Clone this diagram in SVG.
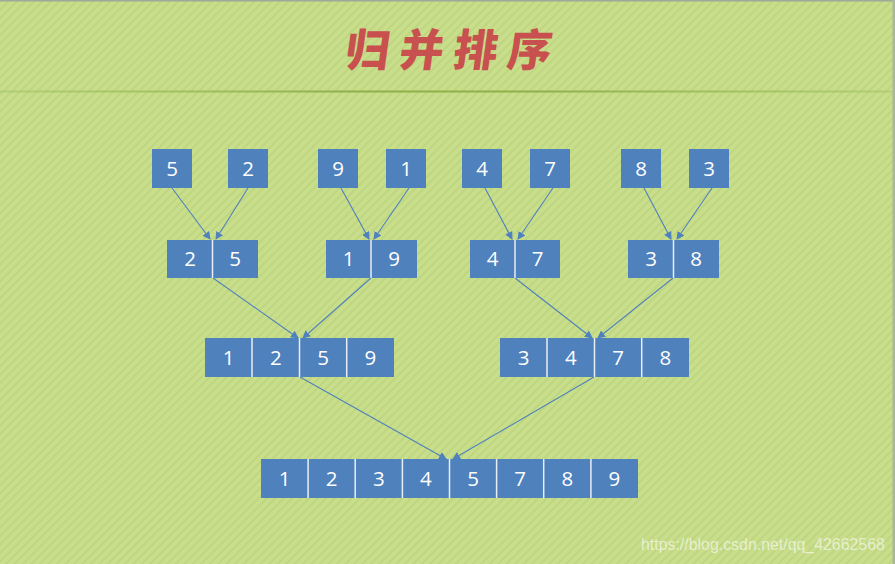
<svg xmlns="http://www.w3.org/2000/svg" width="895" height="564" viewBox="0 0 895 564">
  <defs>
    <pattern id="stripes" width="6" height="6" patternUnits="userSpaceOnUse" patternTransform="rotate(45)">
      <rect width="6" height="6" fill="#C8DE8B"/>
      <rect width="2" height="6" fill="#BED581"/>
    </pattern>
    <linearGradient id="rule" x1="0" y1="0" x2="1" y2="0">
      <stop offset="0" stop-color="#A9C76A" stop-opacity="0.7"/>
      <stop offset="0.4" stop-color="#8DB04A"/>
      <stop offset="0.6" stop-color="#8DB04A"/>
      <stop offset="1" stop-color="#A9C76A" stop-opacity="0.7"/>
    </linearGradient>
    <marker id="ah" markerUnits="userSpaceOnUse" markerWidth="8" markerHeight="8" viewBox="0 0 8 8" refX="7" refY="4" orient="auto">
      <path d="M0,0 L8,4 L0,8 Z" fill="#4F81BD"/>
    </marker>
  </defs>
  <style>
    .box { fill: #4F81BD; }
    .div { stroke: #E8EEF7; stroke-width: 1.5; }
    .num { font-family: "Open Sans", "Noto Sans", "Liberation Sans", sans-serif; font-size: 20.5px; fill: #FFFFFF; text-anchor: middle; }
    .arrow { stroke: #4F81BD; stroke-width: 1.1; fill: none; marker-end: url(#ah); }
  </style>

  <rect width="895" height="564" fill="url(#stripes)"/>
  <rect x="0" y="0" width="895" height="1.5" fill="#A0A89A"/>
  <rect x="892.5" y="0" width="2.5" height="564" fill="#A9B89A"/>
  <rect x="0" y="90.5" width="892" height="2" fill="url(#rule)"/>

  <g id="title">
    <text x="446" y="66" transform="skewX(-8) translate(15,0)" font-family="Noto Sans CJK SC, Noto Sans CJK JP, sans-serif" font-weight="900" font-size="44" fill="#C8504E" text-anchor="middle" letter-spacing="10">归并排序</text>
  </g>

  <g id="connectors">
    <line class="arrow" x1="172" y1="188" x2="210" y2="239"/>
    <line class="arrow" x1="248" y1="188" x2="216" y2="239"/>
    <line class="arrow" x1="341" y1="188" x2="369" y2="239"/>
    <line class="arrow" x1="409" y1="188" x2="374" y2="239"/>
    <line class="arrow" x1="485" y1="188" x2="512" y2="239"/>
    <line class="arrow" x1="553" y1="188" x2="518" y2="239"/>
    <line class="arrow" x1="644" y1="188" x2="671" y2="239"/>
    <line class="arrow" x1="712" y1="188" x2="677" y2="239"/>
    <line class="arrow" x1="213" y1="278" x2="298" y2="338"/>
    <line class="arrow" x1="371" y1="278" x2="303" y2="338"/>
    <line class="arrow" x1="515" y1="278" x2="592" y2="338"/>
    <line class="arrow" x1="673" y1="278" x2="598" y2="338"/>
    <line class="arrow" x1="300" y1="377" x2="446" y2="459"/>
    <line class="arrow" x1="594" y1="377" x2="453" y2="459"/>
  </g>

  <g id="n5"><rect class="box" x="152" y="149" width="40" height="39"/><text class="num" x="172" y="175.5">5</text></g>
  <g id="n2"><rect class="box" x="228" y="149" width="40" height="39"/><text class="num" x="248" y="175.5">2</text></g>
  <g id="n9"><rect class="box" x="318" y="149" width="40" height="39"/><text class="num" x="338" y="175.5">9</text></g>
  <g id="n1"><rect class="box" x="386" y="149" width="40" height="39"/><text class="num" x="406" y="175.5">1</text></g>
  <g id="n4"><rect class="box" x="462" y="149" width="40" height="39"/><text class="num" x="482" y="175.5">4</text></g>
  <g id="n7"><rect class="box" x="530" y="149" width="40" height="39"/><text class="num" x="550" y="175.5">7</text></g>
  <g id="n8"><rect class="box" x="621" y="149" width="40" height="39"/><text class="num" x="641" y="175.5">8</text></g>
  <g id="n3"><rect class="box" x="689" y="149" width="40" height="39"/><text class="num" x="709" y="175.5">3</text></g>

  <g id="p25"><rect class="box" x="167" y="240" width="91" height="38"/><line class="div" x1="212.5" y1="240" x2="212.5" y2="278"/>
    <text class="num" x="190" y="266">2</text><text class="num" x="235" y="266">5</text></g>
  <g id="p19"><rect class="box" x="326" y="240" width="91" height="38"/><line class="div" x1="371" y1="240" x2="371" y2="278"/>
    <text class="num" x="348.5" y="266">1</text><text class="num" x="394" y="266">9</text></g>
  <g id="p47"><rect class="box" x="470" y="240" width="90" height="38"/><line class="div" x1="515" y1="240" x2="515" y2="278"/>
    <text class="num" x="492.5" y="266">4</text><text class="num" x="537.5" y="266">7</text></g>
  <g id="p38"><rect class="box" x="628" y="240" width="91" height="38"/><line class="div" x1="673.5" y1="240" x2="673.5" y2="278"/>
    <text class="num" x="651" y="266">3</text><text class="num" x="696" y="266">8</text></g>

  <g id="q1259"><rect class="box" x="205" y="338" width="189" height="39"/>
    <line class="div" x1="252" y1="338" x2="252" y2="377"/><line class="div" x1="299.5" y1="338" x2="299.5" y2="377"/><line class="div" x1="346.7" y1="338" x2="346.7" y2="377"/>
    <text class="num" x="228.6" y="364.5">1</text><text class="num" x="275.9" y="364.5">2</text><text class="num" x="323.1" y="364.5">5</text><text class="num" x="370.4" y="364.5">9</text></g>
  <g id="q3478"><rect class="box" x="500" y="338" width="189" height="39"/>
    <line class="div" x1="547" y1="338" x2="547" y2="377"/><line class="div" x1="594.5" y1="338" x2="594.5" y2="377"/><line class="div" x1="641.7" y1="338" x2="641.7" y2="377"/>
    <text class="num" x="523.6" y="364.5">3</text><text class="num" x="570.9" y="364.5">4</text><text class="num" x="618.1" y="364.5">7</text><text class="num" x="665.4" y="364.5">8</text></g>

  <g id="final"><rect class="box" x="261" y="459" width="377" height="39"/>
    <line class="div" x1="308.1" y1="459" x2="308.1" y2="498"/><line class="div" x1="355.2" y1="459" x2="355.2" y2="498"/><line class="div" x1="402.4" y1="459" x2="402.4" y2="498"/><line class="div" x1="449.5" y1="459" x2="449.5" y2="498"/>
    <line class="div" x1="496.6" y1="459" x2="496.6" y2="498"/><line class="div" x1="543.7" y1="459" x2="543.7" y2="498"/><line class="div" x1="590.9" y1="459" x2="590.9" y2="498"/>
    <text class="num" x="284.6" y="485.5">1</text><text class="num" x="331.7" y="485.5">2</text><text class="num" x="378.8" y="485.5">3</text><text class="num" x="425.9" y="485.5">4</text>
    <text class="num" x="473.1" y="485.5">5</text><text class="num" x="520.2" y="485.5">7</text><text class="num" x="567.3" y="485.5">8</text><text class="num" x="614.4" y="485.5">9</text></g>

  <text x="641" y="550" font-family="Liberation Sans, Arial, sans-serif" font-size="15.9" fill="#FFFFFF" fill-opacity="0.6">https://blog.csdn.net/qq_42662568</text>
</svg>
